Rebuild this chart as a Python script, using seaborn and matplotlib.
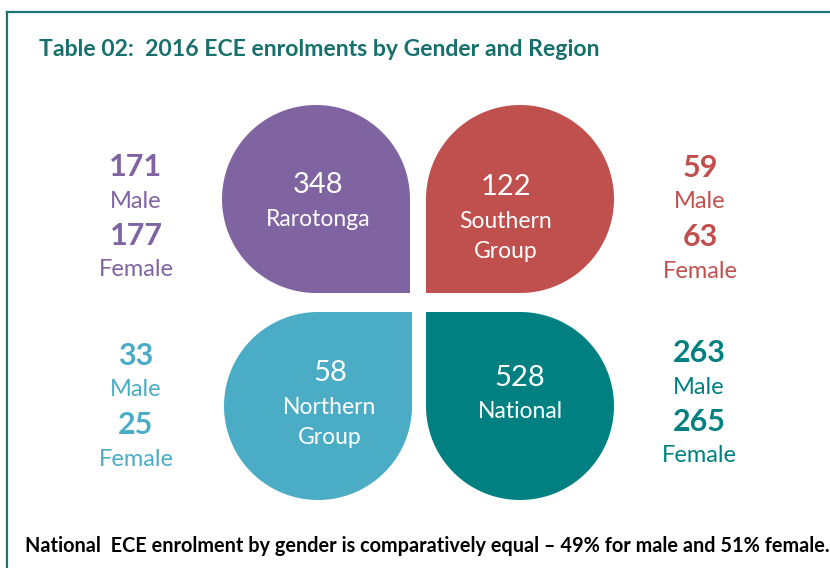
import numpy as np
import matplotlib
matplotlib.use("Agg")
import matplotlib.pyplot as plt
from matplotlib.path import Path as MPath
from matplotlib.patches import PathPatch
import seaborn as sns

# data
regions = ["Rarotonga", "Southern\nGroup", "Northern\nGroup", "National"]
totals = [348, 122, 58, 528]
male = [171, 59, 33, 263]
female = [177, 63, 25, 265]
palette = ["#8064A2", "#C0504D", "#4BACC6", "#008080"]

TITLE = "Table 02:  2016 ECE enrolments by Gender and Region"
NOTE = "National  ECE enrolment by gender is comparatively equal \u2013 49% for male and 51% female."

sns.set_theme(style="white")
plt.rcParams["font.family"] = ["Lato", "DejaVu Sans"]

# layout (pixel coordinates, y down)
centers = [(316, 199), (520, 199), (318, 406), (520, 406)]
corners = [(1, 1), (-1, 1), (1, -1), (-1, -1)]
R = 94
side_x = [136, 700, 136, 699]
side_y = [167, 168, 356, 353]
inner_x = [318, 506, 330, 520]
inner_y = [[185, 220], [187, 221, 252], [373, 408, 438], [378, 412]]


def teardrop(cx, cy, r, sx, sy):
    t0 = np.degrees(np.arctan2(sy, sx)) - 45
    t = np.radians(np.linspace(t0 + 90, t0 + 360, 120))
    pts = list(zip(cx + r * np.cos(t), cy + r * np.sin(t)))
    pts.append((cx + sx * r, cy + sy * r))
    pts.append(pts[0])
    codes = [MPath.MOVETO] + [MPath.LINETO] * (len(pts) - 2) + [MPath.CLOSEPOLY]
    return MPath(pts, codes)


fig = plt.figure(figsize=(8.3, 5.68), dpi=100)
ax = fig.add_axes([0, 0, 1, 1])
ax.set_xlim(0, 830)
ax.set_ylim(568, 0)
ax.axis("off")

# frame lines (top + left)
ax.plot([7, 830], [12, 12], color="#1E7470", lw=1.6, solid_capstyle="projecting")
ax.plot([7, 7], [12, 568], color="#1E7470", lw=1.6, solid_capstyle="projecting")

ax.text(39, 50, TITLE, color="#17706B", fontsize=16.6, fontweight="bold",
        ha="left", va="center")

for i, name in enumerate(regions):
    cx, cy = centers[i]
    sx, sy = corners[i]
    ax.add_patch(PathPatch(teardrop(cx, cy, R, sx, sy), facecolor=palette[i],
                           edgecolor="none"))
    lines = [str(totals[i])] + name.split("\n")
    for j, line in enumerate(lines):
        ax.text(inner_x[i], inner_y[i][j], line, color="white",
                fontsize=21 if j == 0 else 16.5, ha="center", va="center")

    x0, y0 = side_x[i], side_y[i]
    ax.text(x0, y0, str(male[i]), color=palette[i], fontsize=22,
            fontweight="bold", ha="center", va="center")
    ax.text(x0, y0 + 34, "Male", color=palette[i], fontsize=17,
            ha="center", va="center")
    ax.text(x0, y0 + 69, str(female[i]), color=palette[i], fontsize=22,
            fontweight="bold", ha="center", va="center")
    ax.text(x0, y0 + 103, "Female", color=palette[i], fontsize=17,
            ha="center", va="center")

ax.text(25, 546, NOTE, color="black", fontsize=14.3, fontweight="bold",
        ha="left", va="center")

fig.savefig("out.png", dpi=100)
plt.close(fig)
